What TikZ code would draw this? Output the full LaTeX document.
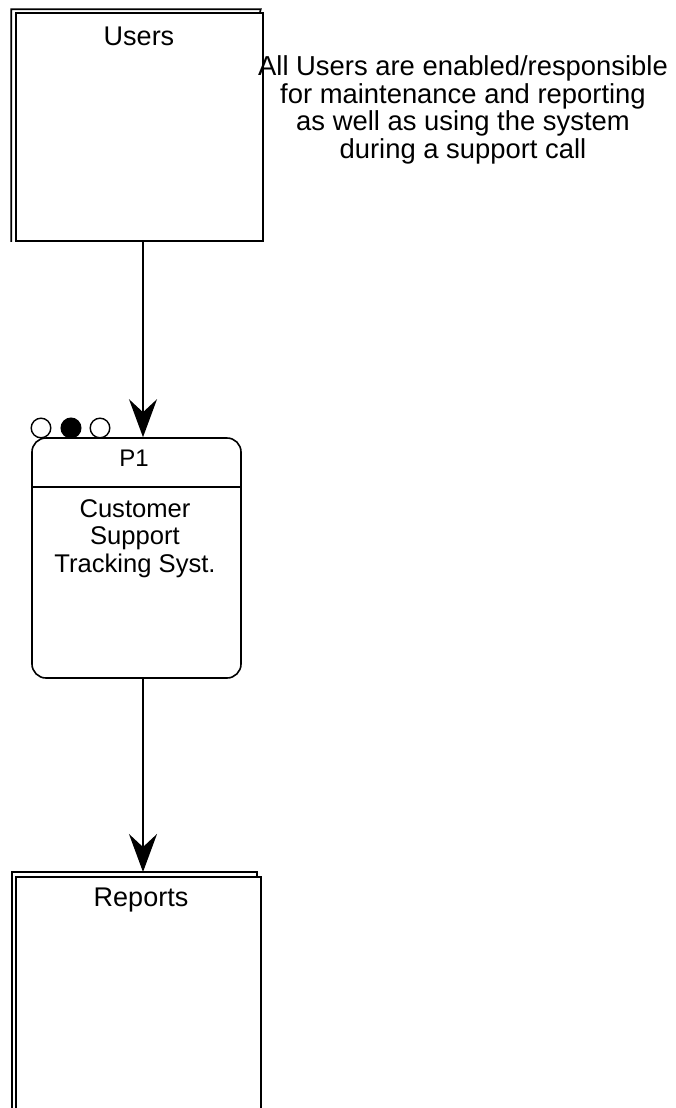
\documentclass[tikz,border=0pt]{standalone}
\usepackage{fontspec}
\setmainfont{Liberation Sans}
\usetikzlibrary{arrows.meta,fit}

\tikzset{
  frame/.style={draw, line width=0.8pt, inner sep=0pt},
  procbox/.style={draw, line width=0.8pt, inner sep=0pt, rounded corners=7pt},
  label/.style={inner sep=0pt, font=\fontsize{13.5pt}{13.5pt}\selectfont},
  smalllabel/.style={inner sep=0pt, font=\fontsize{12pt}{12pt}\selectfont},
  note/.style={inner sep=0pt, align=center, font=\fontsize{13.7pt}{13.7pt}\selectfont},
  proctext/.style={inner sep=0pt, align=center, font=\fontsize{12.8pt}{13.7pt}\selectfont},
  dot/.style={circle, draw, line width=0.7pt, inner sep=0pt, minimum size=9.8pt},
  flow/.style={line width=0.7pt, -{Stealth[length=19pt, width=14pt, inset=6.5pt]}},
}

\begin{document}
\begin{tikzpicture}[x=0.5pt, y=-0.5pt]
  \useasboundingbox (0,0) rectangle (675,1108);

  % vertical axis shared by the two flows
  \coordinate (axis) at (143,0);

  % external entity: Users (double-edged store box)
  \node[frame, fit={(16,13) (263,241)}] (users) {};
  \draw[line width=0.8pt] ([shift={(-4,0)}]users.south west) -- ([shift={(-4,-3)}]users.north west)
        -- ([shift={(-3,-3)}]users.north east) -- (users.north east -| 260,0);
  \node[label, anchor=base] (userstext) at (139,45) {Users};

  % annotation beside the Users box (anchored on the baseline of its last line)
  \node[note, anchor=base] (note) at (463,158)
    {All Users are enabled/responsible\\for maintenance and reporting\\as well as using the system\\during a support call};

  % process P1
  \node[procbox, fit={(32,438) (241,678)}] (p1) {};
  \coordinate (divy) at (0,487);
  \draw[line width=0.8pt] (p1.west |- divy) -- (p1.east |- divy);
  \node[smalllabel, anchor=base] (p1id) at (134,466) {P1};
  \node[proctext, anchor=base] (p1text) at (135,572) {Customer\\Support\\Tracking Syst.};

  % status indicators above the process
  \node[dot] (s1) at (41,428) {};
  \node[dot, fill=black] (s2) at (71,428) {};
  \node[dot] (s3) at (100,428) {};

  % store: Reports (runs off the bottom edge)
  \coordinate (rtl) at (16,877);
  \coordinate (rtr) at (261,877);
  \coordinate (rbl) at (16,1120);
  \coordinate (rbr) at (261,1120);
  \draw[line width=0.8pt] (rbl) -- (rtl) -- (rtr) -- (rbr);
  \draw[line width=0.8pt] (12,1120) -- (12,872) -- (257,872) -- (257,877);
  \node[label, anchor=base] (reportstext) at (141,906) {Reports};
  \coordinate (reports) at (143,872);

  % flows
  \draw[flow] (users.south -| axis) -- (p1.north -| axis);
  \draw[flow] (p1.south -| axis) -- (reports);
\end{tikzpicture}
\end{document}
